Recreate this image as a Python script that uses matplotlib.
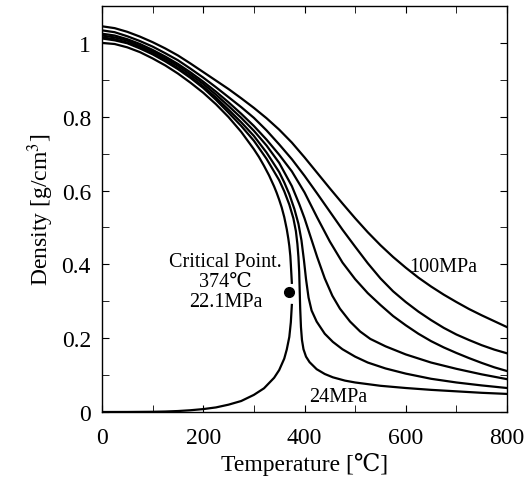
import numpy as np
import matplotlib
matplotlib.use("Agg")
import matplotlib.pyplot as plt
from matplotlib.ticker import MultipleLocator

# ---- data (temperature in degC, density in g/cm3) ----
sat_liq_T   = [0, 25, 50, 75, 100, 125, 150, 175, 200, 225, 250, 275, 300, 310, 320, 330, 340,
               345, 350, 355, 360, 365, 368, 370, 372, 373, 374, 375]
sat_liq_rho = [1.000, 0.997, 0.988, 0.975, 0.958, 0.939, 0.917, 0.892, 0.865, 0.834, 0.799, 0.759,
               0.712, 0.691, 0.667, 0.641, 0.611, 0.594, 0.575, 0.554, 0.528, 0.495, 0.470, 0.450,
               0.423, 0.400, 0.375, 0.350]

sat_vap_T   = [0, 50, 100, 125, 150, 175, 200, 225, 250, 275, 300, 320, 340, 350, 360, 365, 370, 373, 375]
sat_vap_rho = [0.0, 0.0001, 0.0006, 0.0013, 0.0026, 0.0048, 0.0079, 0.0124, 0.0199, 0.0298, 0.0464,
               0.0642, 0.0927, 0.1136, 0.1446, 0.1695, 0.2034, 0.243, 0.290]

p24_T   = [0, 25, 50, 75, 100, 125, 150, 175, 200, 225, 250, 275, 300, 325, 350, 360, 370, 378,
           383, 386, 388, 389.5, 390.5, 391.5, 393, 395, 398, 403, 410, 424, 440, 456, 480, 500,
           550, 600, 650, 700, 750, 800]
p24_rho = [1.012, 1.007, 0.999, 0.985, 0.969, 0.950, 0.929, 0.905, 0.878, 0.846, 0.811, 0.775,
           0.735, 0.686, 0.628, 0.598, 0.562, 0.525, 0.490, 0.455, 0.420, 0.380, 0.330, 0.280,
           0.230, 0.195, 0.170, 0.150, 0.135, 0.116, 0.103, 0.094, 0.085, 0.080, 0.071, 0.065,
           0.060, 0.056, 0.052, 0.049]

p30_T   = [0, 25, 50, 75, 100, 125, 150, 175, 200, 225, 250, 275, 300, 325, 350, 360, 370, 380,
           388, 394, 399, 403, 408, 414, 424, 440, 456, 475, 500, 525, 560, 600, 650, 700, 750, 800]
p30_rho = [1.015, 1.010, 1.001, 0.988, 0.972, 0.953, 0.932, 0.908, 0.882, 0.852, 0.819, 0.785,
           0.748, 0.703, 0.650, 0.622, 0.590, 0.550, 0.510, 0.465, 0.410, 0.360, 0.310, 0.275,
           0.245, 0.212, 0.190, 0.170, 0.150, 0.134, 0.118, 0.104, 0.090, 0.080, 0.072, 0.065]

p40_T   = [0, 25, 50, 75, 100, 125, 150, 175, 200, 225, 250, 275, 300, 325, 350, 375, 390, 400,
           410, 425, 440, 455, 470, 490, 510, 530, 560, 600, 650, 700, 750, 800]
p40_rho = [1.020, 1.015, 1.006, 0.992, 0.977, 0.958, 0.938, 0.914, 0.889, 0.860, 0.829, 0.797,
           0.762, 0.722, 0.675, 0.612, 0.562, 0.525, 0.483, 0.420, 0.362, 0.315, 0.280, 0.245,
           0.218, 0.198, 0.178, 0.156, 0.134, 0.117, 0.102, 0.089]

p50_T   = [0, 25, 50, 75, 100, 125, 150, 175, 200, 225, 250, 275, 300, 325, 350, 375, 400, 425,
           450, 475, 500, 525, 550, 575, 600, 625, 650, 675, 700, 725, 750, 775, 800]
p50_rho = [1.025, 1.020, 1.010, 0.997, 0.981, 0.963, 0.943, 0.920, 0.895, 0.868, 0.839, 0.808,
           0.775, 0.738, 0.697, 0.652, 0.595, 0.527, 0.462, 0.405, 0.360, 0.322, 0.290, 0.260,
           0.235, 0.212, 0.192, 0.175, 0.160, 0.146, 0.133, 0.121, 0.111]

p70_T   = [0, 25, 50, 75, 100, 125, 150, 175, 200, 225, 250, 275, 300, 325, 350, 375, 400, 425,
           450, 475, 500, 525, 550, 575, 600, 625, 650, 675, 700, 725, 750, 775, 800]
p70_rho = [1.034, 1.029, 1.018, 1.005, 0.990, 0.972, 0.953, 0.930, 0.906, 0.880, 0.853, 0.826,
           0.797, 0.763, 0.725, 0.685, 0.640, 0.592, 0.543, 0.494, 0.448, 0.403, 0.362, 0.327,
           0.298, 0.272, 0.249, 0.228, 0.210, 0.195, 0.181, 0.169, 0.159]

p100_T   = [0, 25, 50, 75, 100, 125, 150, 175, 200, 225, 250, 275, 300, 325, 350, 375, 400, 425,
            450, 475, 500, 525, 550, 575, 600, 625, 650, 675, 700, 725, 750, 775, 800]
p100_rho = [1.045, 1.040, 1.030, 1.017, 1.002, 0.985, 0.966, 0.944, 0.921, 0.898, 0.875, 0.850,
            0.824, 0.796, 0.765, 0.730, 0.690, 0.648, 0.606, 0.565, 0.525, 0.487, 0.452, 0.420,
            0.391, 0.364, 0.340, 0.318, 0.298, 0.279, 0.262, 0.246, 0.230]

crit_T, crit_rho = 370, 0.324

isobars = [(p24_T, p24_rho), (p30_T, p30_rho), (p40_T, p40_rho),
           (p50_T, p50_rho), (p70_T, p70_rho), (p100_T, p100_rho)]

# ---- figure ----
plt.rcParams['font.family'] = ['Liberation Serif', 'DejaVu Serif', 'Noto Sans CJK JP', 'DejaVu Sans']
plt.rcParams['mathtext.fontset'] = 'stix'

fig = plt.figure(figsize=(5.32, 4.85), dpi=100)
ax = fig.add_axes([102/532, 72/485, 405/532, 406/485])

lw = 1.6
ax.plot(sat_liq_T, sat_liq_rho, color='black', lw=lw)
ax.plot(sat_vap_T, sat_vap_rho, color='black', lw=lw)
for T, rho in isobars:
    ax.plot(T, rho, color='black', lw=lw)
ax.plot([crit_T], [crit_rho], 'o', color='black', ms=7)

ax.text(244, 0.408, 'Critical Point.', ha='center', va='center', fontsize=14.5)
ax.text(244, 0.354, '374℃', ha='center', va='center', fontsize=14.5)
ax.text(244, 0.300, '22.1MPa', ha='center', va='center', fontsize=14.5)
ax.text(674, 0.395, '100MPa', ha='center', va='center', fontsize=14.5)
ax.text(466, 0.043, '24MPa', ha='center', va='center', fontsize=14.5)

ax.set_xlim(0, 800)
ax.set_ylim(0, 1.1)
ax.xaxis.set_major_locator(MultipleLocator(200))
ax.xaxis.set_minor_locator(MultipleLocator(100))
ax.set_yticks([0, 0.2, 0.4, 0.6, 0.8, 1.0])
ax.set_yticklabels(['0', '0.2', '0.4', '0.6', '0.8', '1'])
ax.yaxis.set_minor_locator(MultipleLocator(0.1))
ax.tick_params(which='both', direction='in', top=True, right=True, labelsize=17)
ax.tick_params(which='both', length=5)
ax.tick_params(axis='x', pad=11)
ax.tick_params(axis='y', pad=8)
for s in ax.spines.values():
    s.set_linewidth(1.0)

ax.set_xlabel('Temperature [℃]', fontsize=17, labelpad=3)
ax.set_ylabel('Density [g/cm$^3$]', fontsize=17, labelpad=4)

fig.savefig('out.png', dpi=100)
